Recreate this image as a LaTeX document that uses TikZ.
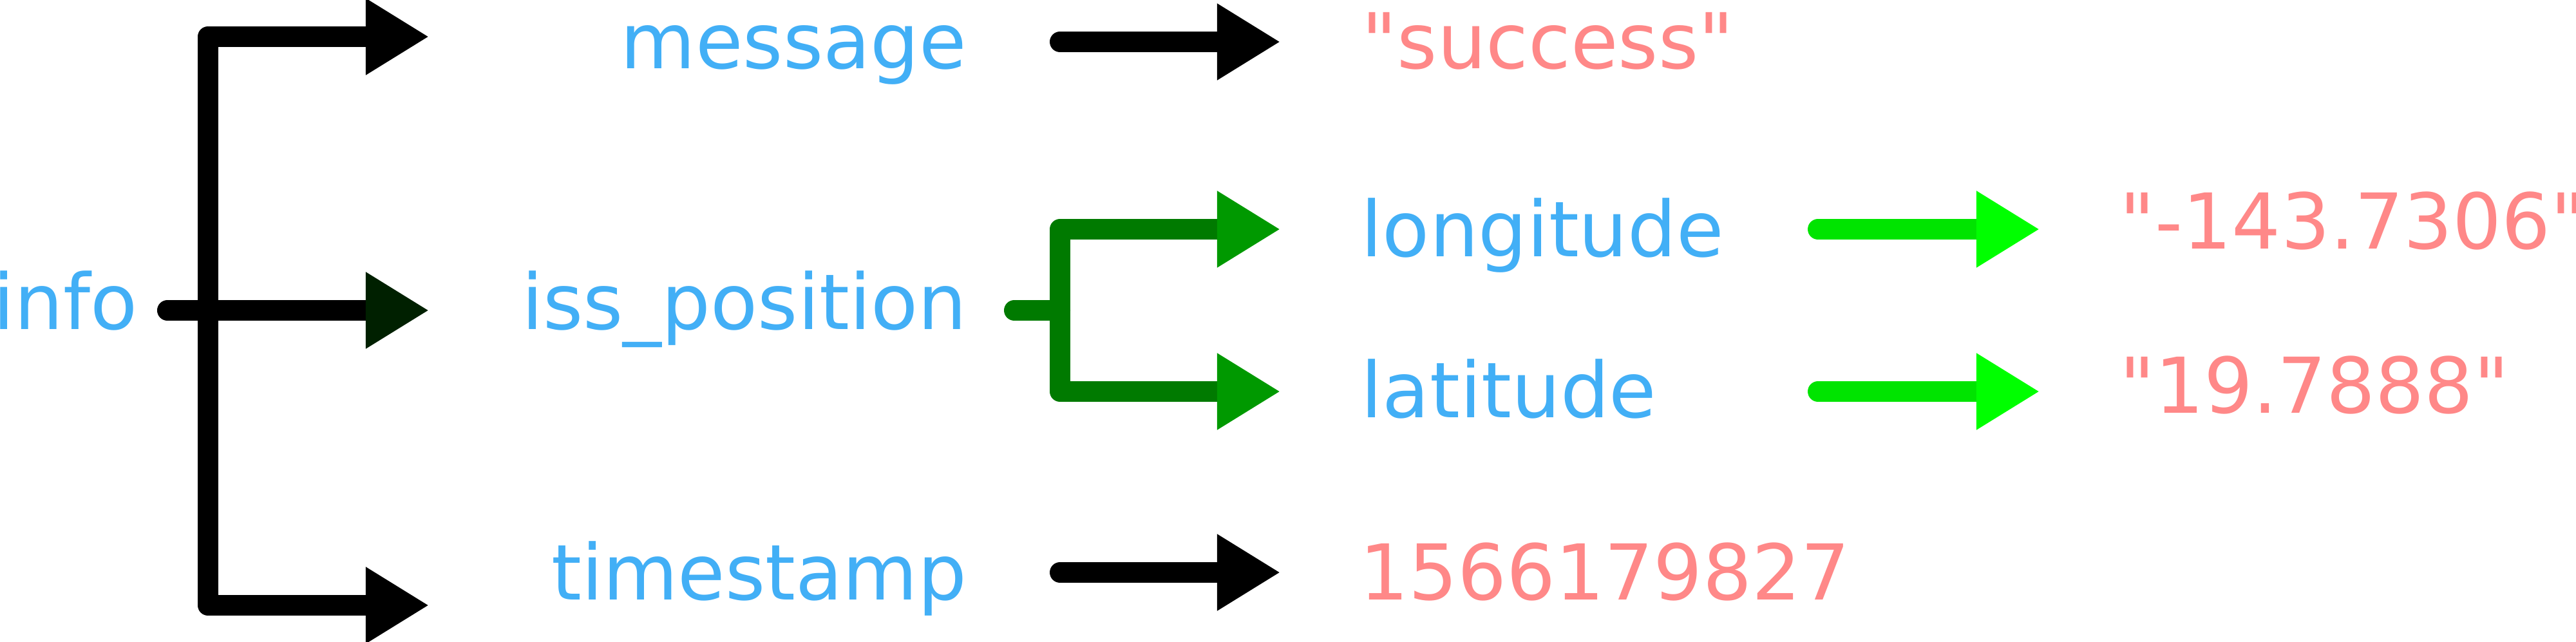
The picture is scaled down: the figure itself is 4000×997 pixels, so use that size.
\documentclass[tikz,border=0pt]{standalone}
\usepackage{fontspec}
\newfontfamily\jsonfont{DejaVu Sans}
\usepackage{xcolor}
\usepackage{tikz}
\usetikzlibrary{arrows.meta}
\definecolor{keyblue}{RGB}{66,175,246}
\definecolor{valred}{RGB}{255,136,136}
\definecolor{branchgreen}{RGB}{0,122,0}
\definecolor{headgreen}{RGB}{0,153,0}
\definecolor{leafgreen}{RGB}{0,228,0}
\definecolor{leafhead}{RGB}{0,255,0}
\definecolor{darkhead}{RGB}{0,32,0}
\tikzset{head/.tip={Triangle[length=9.8mm,width=11.2mm]}}

\begin{document}
\begin{tikzpicture}[x=0.01cm,y=0.01cm,
  key/.style={inner sep=0pt,text=keyblue,font=\jsonfont\fontsize{34}{40}\selectfont},
  val/.style={inner sep=0pt,text=valred,font=\jsonfont\fontsize{34}{40}\selectfont,anchor=base west},
  link/.style={line width=3.2mm,line cap=round,line join=round}]
\useasboundingbox (0,0) rectangle (4000,997);
% keys
\node[key,anchor=base west] (info) at (-11,485) {info};
\node[key,anchor=base east] (message) at (1502,890) {message};
\node[key,anchor=base east] (isspos) at (1502,485) {iss\_position};
\node[key,anchor=base east] (timestamp) at (1502,65) {timestamp};
\node[key,anchor=base west] (longitude) at (2113,598) {longitude};
\node[key,anchor=base west] (latitude) at (2113,348) {latitude};
% values
\node[val] (success) at (2114,890) {"success"};
\node[val] (tsval) at (2111,65) {1566179827};
\node[val] (lonval) at (3291,610) {"-143.7306"};
\node[val] (latval) at (3291,355) {"19.7888"};
% arrow ends
\coordinate (infostart) at (260,515);
\coordinate (infofork) at (323,515);
\coordinate (infotop) at (666,940);
\coordinate (infomid) at (666,515);
\coordinate (infobot) at (666,57);
\coordinate (posstart) at (1575,515);
\coordinate (posfork) at (1646,515);
\coordinate (postop) at (1988,641);
\coordinate (posbot) at (1988,389);
\coordinate (msgstart) at (1646,932);
\coordinate (msgend) at (1988,932);
\coordinate (tsstart) at (1646,108);
\coordinate (tsend) at (1988,108);
\coordinate (lonstart) at (2823,641);
\coordinate (lonend) at (3167,641);
\coordinate (latstart) at (2823,389);
\coordinate (latend) at (3167,389);
% info tree
\draw[link,{head}-{head}] (infotop) -| (infofork) |- (infobot);
\draw[link,-{head[color=darkhead]}] (infostart) -- (infomid);
\draw[link,-{head}] (msgstart) -- (msgend);
\draw[link,-{head}] (tsstart) -- (tsend);
% iss_position tree
\draw[link,branchgreen,{head[color=headgreen]}-{head[color=headgreen]}] (postop) -| (posfork) |- (posbot);
\draw[link,branchgreen] (posstart) -- (posfork);
\draw[link,leafgreen,-{head[color=leafhead]}] (lonstart) -- (lonend);
\draw[link,leafgreen,-{head[color=leafhead]}] (latstart) -- (latend);
\end{tikzpicture}
\end{document}
